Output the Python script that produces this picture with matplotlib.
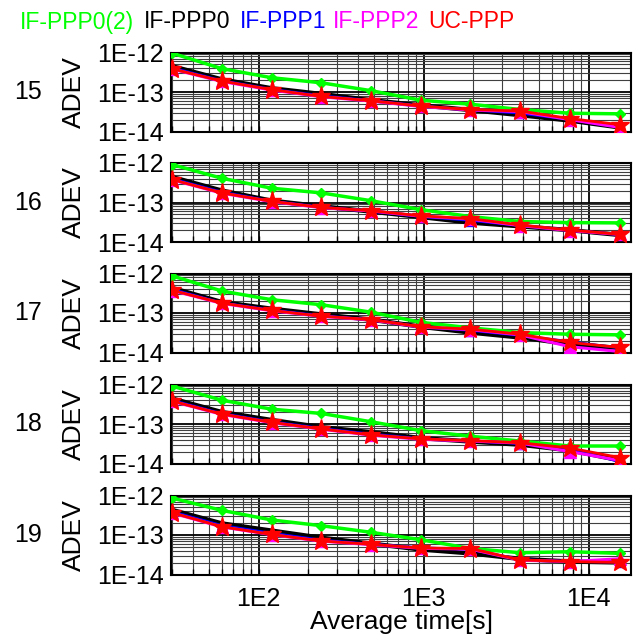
import numpy as np
import matplotlib
matplotlib.use('Agg')
import matplotlib.pyplot as plt
from matplotlib.ticker import FixedLocator, LogLocator, NullFormatter

plt.rcParams['font.family'] = ['Liberation Sans', 'DejaVu Sans']

# averaging times (s)
tau = [30, 60, 120, 240, 480, 960, 1920, 3840, 7680, 15360]

sats = ['15', '16', '17', '18', '19']
series = ['IF-PPP0(2)', 'IF-PPP0', 'IF-PPP1', 'IF-PPP2', 'UC-PPP']
colors = ['#00ff00', 'black', 'blue', 'magenta', 'red']

# Allan deviation per satellite, one list per solution
ifppp0_2 = {
    '15': [9.6e-13, 3.9e-13, 2.3e-13, 1.71e-13, 1.08e-13, 6.2e-14, 4.9e-14, 3.6e-14, 2.9e-14, 2.8e-14],
    '16': [9.1e-13, 4.1e-13, 2.3e-13, 1.75e-13, 1.11e-13, 6.6e-14, 4.4e-14, 3.3e-14, 3.1e-14, 3.05e-14],
    '17': [8.7e-13, 3.6e-13, 2.17e-13, 1.62e-13, 1.05e-13, 5.8e-14, 4.2e-14, 3.2e-14, 2.9e-14, 2.8e-14],
    '18': [9.1e-13, 4.0e-13, 2.37e-13, 1.85e-13, 1.14e-13, 6.8e-14, 4.9e-14, 3.7e-14, 2.77e-14, 2.77e-14],
    '19': [8.6e-13, 4.2e-13, 2.4e-13, 1.72e-13, 1.17e-13, 7.6e-14, 4.55e-14, 3.56e-14, 3.77e-14, 3.43e-14],
}
ifppp0 = {
    '15': [4.5e-13, 2.08e-13, 1.24e-13, 8.9e-14, 6.2e-14, 4.6e-14, 3.5e-14, 2.6e-14, 1.89e-14, 1.27e-14],
    '16': [4.4e-13, 2.0e-13, 1.11e-13, 8.0e-14, 5.9e-14, 4.3e-14, 3.1e-14, 2.5e-14, 1.99e-14, 1.51e-14],
    '17': [4.3e-13, 1.89e-13, 1.28e-13, 9.2e-14, 6.8e-14, 4.5e-14, 3.2e-14, 2.4e-14, 1.63e-14, 1.3e-14],
    '18': [4.4e-13, 2.0e-13, 1.26e-13, 8.3e-14, 6.2e-14, 4.4e-14, 3.6e-14, 3.0e-14, 2.15e-14, 1.21e-14],
    '19': [4.3e-13, 1.96e-13, 1.29e-13, 8.5e-14, 6.05e-14, 4.3e-14, 3.43e-14, 2.48e-14, 2.13e-14, 2.02e-14],
}
ifppp1 = {
    '15': [4.1e-13, 1.95e-13, 1.18e-13, 8.1e-14, 6.1e-14, 4.5e-14, 3.5e-14, 2.9e-14, 2.0e-14, 1.3e-14],
    '16': [4.0e-13, 1.85e-13, 1.09e-13, 7.7e-14, 6.0e-14, 4.4e-14, 3.5e-14, 2.6e-14, 2.0e-14, 1.55e-14],
    '17': [4.0e-13, 1.82e-13, 1.2e-13, 8.6e-14, 6.8e-14, 4.5e-14, 3.6e-14, 2.7e-14, 1.9e-14, 1.3e-14],
    '18': [4.0e-13, 1.85e-13, 1.15e-13, 7.8e-14, 5.6e-14, 4.3e-14, 3.7e-14, 3.2e-14, 2.4e-14, 1.1e-14],
    '19': [3.9e-13, 1.75e-13, 1.12e-13, 7.5e-14, 5.9e-14, 4.8e-14, 4.3e-14, 2.4e-14, 2.13e-14, 2.05e-14],
}
ifppp2 = {
    '15': [3.8e-13, 1.85e-13, 1.12e-13, 7.6e-14, 5.9e-14, 4.3e-14, 3.5e-14, 3.2e-14, 2.0e-14, 1.27e-14],
    '16': [3.75e-13, 1.72e-13, 1.05e-13, 7.4e-14, 6.1e-14, 4.5e-14, 3.8e-14, 2.6e-14, 1.95e-14, 1.55e-14],
    '17': [3.7e-13, 1.75e-13, 1.14e-13, 8.2e-14, 6.7e-14, 4.4e-14, 3.8e-14, 2.8e-14, 1.4e-14, 1.06e-14],
    '18': [3.75e-13, 1.75e-13, 1.08e-13, 7.4e-14, 5.2e-14, 4.1e-14, 3.7e-14, 3.3e-14, 2.0e-14, 1.2e-14],
    '19': [3.6e-13, 1.6e-13, 1.02e-13, 7.0e-14, 5.7e-14, 4.6e-14, 4.4e-14, 2.3e-14, 2.13e-14, 2.5e-14],
}
ucppp = {
    '15': [3.85e-13, 1.89e-13, 1.15e-13, 7.7e-14, 6.0e-14, 4.4e-14, 3.6e-14, 3.3e-14, 2.13e-14, 1.49e-14],
    '16': [3.8e-13, 1.75e-13, 1.07e-13, 7.5e-14, 6.2e-14, 4.6e-14, 3.9e-14, 2.7e-14, 2.0e-14, 1.57e-14],
    '17': [3.75e-13, 1.78e-13, 1.16e-13, 8.3e-14, 6.8e-14, 4.5e-14, 3.9e-14, 2.9e-14, 1.8e-14, 1.34e-14],
    '18': [3.8e-13, 1.78e-13, 1.10e-13, 7.5e-14, 5.3e-14, 4.2e-14, 3.8e-14, 3.35e-14, 2.47e-14, 1.41e-14],
    '19': [3.66e-13, 1.62e-13, 1.03e-13, 7.05e-14, 5.8e-14, 4.7e-14, 4.55e-14, 2.34e-14, 2.13e-14, 2.02e-14],
}
all_data = [ifppp0_2, ifppp0, ifppp1, ifppp2, ucppp]

styles = [
    dict(marker='D', ms=5, lw=2.5),
    dict(marker='None', ms=0, lw=3.2),
    dict(marker='^', ms=7, lw=1.8),
    dict(marker='^', ms=8, lw=2.2),
    dict(marker='*', ms=14, lw=2.0),
]

W, H = 641, 639
fig = plt.figure(figsize=(W / 100, H / 100), dpi=100)

left, right = 171, 631
tops = [52.5, 163, 273.5, 384.5, 495.5]
ph = 79

for i, sat in enumerate(sats):
    ax = fig.add_axes([left / W, 1 - (tops[i] + ph) / H, (right - left) / W, ph / H])
    for data, c, st in zip(all_data, colors, styles):
        ax.plot(tau, data[sat], color=c, lw=st['lw'], marker=st['marker'],
                ms=st['ms'], mec=c, mfc=c, zorder=3)
    ax.set_xscale('log')
    ax.set_yscale('log')
    ax.set_xlim(29.5, 18000)
    ax.set_ylim(1e-14, 1e-12)
    ax.yaxis.set_major_locator(FixedLocator([1e-14, 1e-13, 1e-12]))
    ax.set_yticklabels(['1E-14', '1E-13', '1E-12'])
    ax.yaxis.set_minor_locator(LogLocator(base=10, subs=np.arange(2, 10)))
    ax.yaxis.set_minor_formatter(NullFormatter())
    ax.xaxis.set_major_locator(FixedLocator([1e2, 1e3, 1e4]))
    ax.xaxis.set_minor_locator(LogLocator(base=10, subs=np.arange(2, 10)))
    ax.xaxis.set_minor_formatter(NullFormatter())
    ax.grid(True, which='major', color='black', lw=1.3)
    ax.grid(True, which='minor', color='0.25', lw=0.8)
    ax.tick_params(axis='both', which='both', direction='in', labelsize=18,
                   width=1, length=4)
    ax.tick_params(axis='y', which='both', length=0, pad=5)
    ax.tick_params(axis='x', pad=9)
    if i == len(sats) - 1:
        ax.set_xticklabels(['1E2', '1E3', '1E4'])
        ax.set_xlabel('Average time[s]', fontsize=19, labelpad=-1)
    else:
        ax.set_xticklabels([])
    for sp in ax.spines.values():
        sp.set_linewidth(1.5)
    ax.set_ylabel('ADEV', fontsize=19, labelpad=8)
    ax.text(-0.311, 0.5, sat, transform=ax.transAxes, fontsize=18,
            ha='center', va='center')

# coloured series names along the top
xs = [20, 144, 240, 333, 428]
for name, c, x in zip(series, colors, xs):
    fig.text(x / W, 1 - 22 / H, name, color=c, fontsize=16.5, ha='left', va='center')

fig.savefig('out.png', dpi=100)
